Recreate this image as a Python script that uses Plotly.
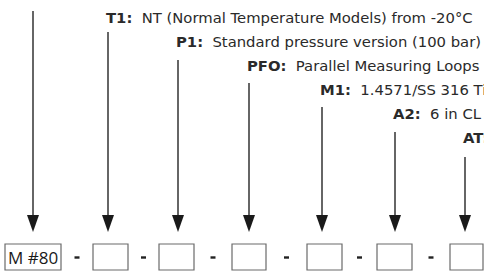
import plotly.graph_objects as go

# ---- data ----
codes = ["M #80", "", "", "", "", "", ""]
labels = ["T1:", "P1:", "PFO:", "M1:", "A2:", "AT"]
descriptions = [
    "NT (Normal Temperature Models) from -20°C",
    "Standard pressure version (100 bar)",
    "Parallel Measuring Loops",
    "1.4571/SS 316 Ti",
    "6 in CL 150",
    ":",
]

# ---- layout geometry (pixels) ----
W, H = 484, 271
arrow_x = [33, 108, 178, 249, 322, 395, 465]
arrow_top = [11, 32, 60, 83, 107, 132, 157]
label_y = [17, 41, 65, 89, 113, 137]
box_left = [5, 93, 159, 232, 307, 377, 450]
box_right = [61, 128, 194, 266, 342, 412, 483]
box_top, box_bot = 244, 270
head_base, head_tip, head_half = 215, 232, 6
line_col = "#333333"
text_col = "#2a2a2a"

fig = go.Figure()

# arrow shafts
xs, ys = [], []
for x, t in zip(arrow_x, arrow_top):
    xs += [x, x, None]
    ys += [t, head_base + 1, None]
fig.add_trace(go.Scatter(x=xs, y=ys, mode="lines",
                         line=dict(color=line_col, width=1.5),
                         hoverinfo="skip", showlegend=False))

shapes = []
# arrow heads
for x in arrow_x:
    path = (f"M {x - head_half},{head_base} L {x + head_half},{head_base} "
            f"L {x},{head_tip} Z")
    shapes.append(dict(type="path", path=path, xref="x", yref="y",
                       fillcolor="#1a1a1a", line=dict(width=0)))

# code boxes
for l, r in zip(box_left, box_right):
    shapes.append(dict(type="rect", xref="x", yref="y", x0=l, x1=r,
                       y0=box_top, y1=box_bot,
                       line=dict(color="#6a6a6a", width=1.2),
                       fillcolor="rgba(0,0,0,0)"))

# separators between boxes
mid_y = (box_top + box_bot) / 2 + 0.5
for i in range(len(box_left) - 1):
    m = (box_right[i] + box_left[i + 1]) / 2
    shapes.append(dict(type="line", xref="x", yref="y", x0=m - 2.5, x1=m + 2.5,
                       y0=mid_y, y1=mid_y, line=dict(color="#222222", width=2.4)))

annotations = []
# code texts
for c, l, r in zip(codes, box_left, box_right):
    if c:
        annotations.append(dict(x=(l + r) / 2, y=(box_top + box_bot) / 2 + 0.5,
                                xref="x", yref="y", text=c, showarrow=False,
                                xanchor="center", yanchor="middle",
                                font=dict(family="Open Sans", size=17, color="#1a1a1a")))

# option labels
for i, (lab, desc) in enumerate(zip(labels, descriptions)):
    txt = f"<b>{lab}</b>" + ("\u00a0\u00a0" + desc if desc != ":" else "<b>:</b>")
    annotations.append(dict(x=arrow_x[i + 1] - 4, y=label_y[i], xref="x", yref="y",
                            text=txt, showarrow=False, xanchor="left",
                            yanchor="middle",
                            font=dict(family="DejaVu Sans", size=14.8, color=text_col)))

fig.update_layout(
    width=W, height=H,
    margin=dict(l=0, r=0, t=0, b=0),
    paper_bgcolor="white", plot_bgcolor="white",
    xaxis=dict(range=[0, W], visible=False, fixedrange=True),
    yaxis=dict(range=[H, 0], visible=False, fixedrange=True),
    shapes=shapes, annotations=annotations, showlegend=False,
)

fig.write_html("out.html", config={"displayModeBar": False},
               post_script="document.body.style.margin='0';document.body.style.padding='0';"
                           "document.body.style.overflow='hidden';")
